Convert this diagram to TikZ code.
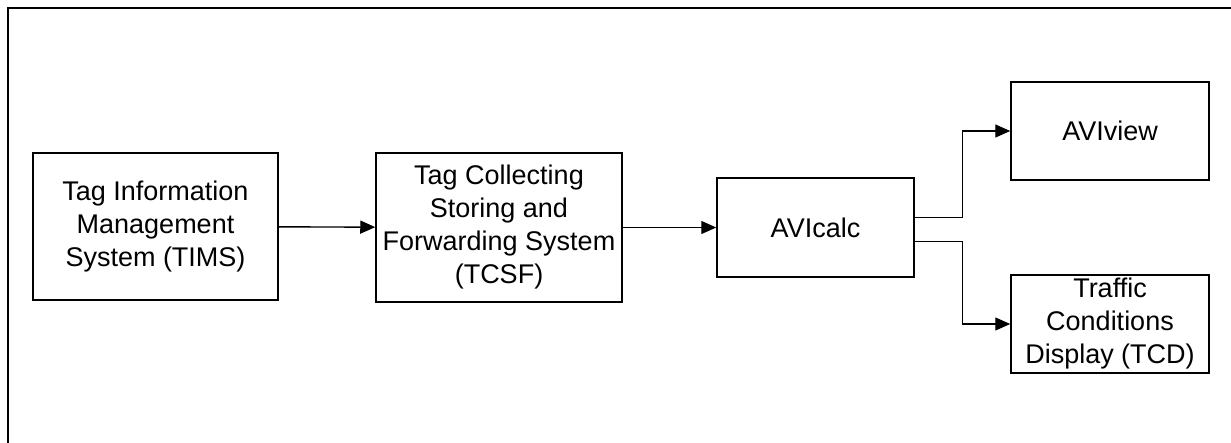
\documentclass[tikz,border=0pt]{standalone}
\usepackage{fontspec}
\setmainfont{Liberation Sans}
\usetikzlibrary{arrows.meta}
\begin{document}
\begin{tikzpicture}[x=1pt, y=1pt,
  sysbox/.style={draw, line width=1.5pt, align=center, inner sep=0pt,
    font=\fontsize{27}{33}\selectfont},
  flow/.style={line width=1.4pt, -{Triangle[length=15pt, width=13pt]}}]
  \useasboundingbox (0,0) rectangle (1231,442);
  \clip (0,0) rectangle (1231,442);
  \draw[line width=2.4pt] (8,-10) -- (8,434) -- (1250,434);
  \node[sysbox, minimum width=245, minimum height=147] (tims) at (155.5,215.5)
    {Tag Information\\Management\\System (TIMS)};
  \node[sysbox, minimum width=246, minimum height=149] (tcsf) at (499,214.5)
    {Tag Collecting\\Storing and\\Forwarding System\\(TCSF)};
  \node[sysbox, minimum width=197, minimum height=99] (avicalc) at (815.5,214.5) {AVIcalc};
  \node[sysbox, minimum width=198, minimum height=98] (aviview) at (1110,311) {AVIview};
  \node[sysbox, minimum width=198, minimum height=98] (tcd) at (1110,118)
    {Traffic\\Conditions\\Display (TCD)};
  \draw[flow] (tims) -- (tcsf);
  \draw[flow] (tcsf) -- (avicalc);
  \foreach \dy/\dest in {10/aviview, -14/tcd} {
    \draw[flow] ([yshift=\dy pt]avicalc.east) -- ++(48,0) |- (\dest);
  }
\end{tikzpicture}
\end{document}
